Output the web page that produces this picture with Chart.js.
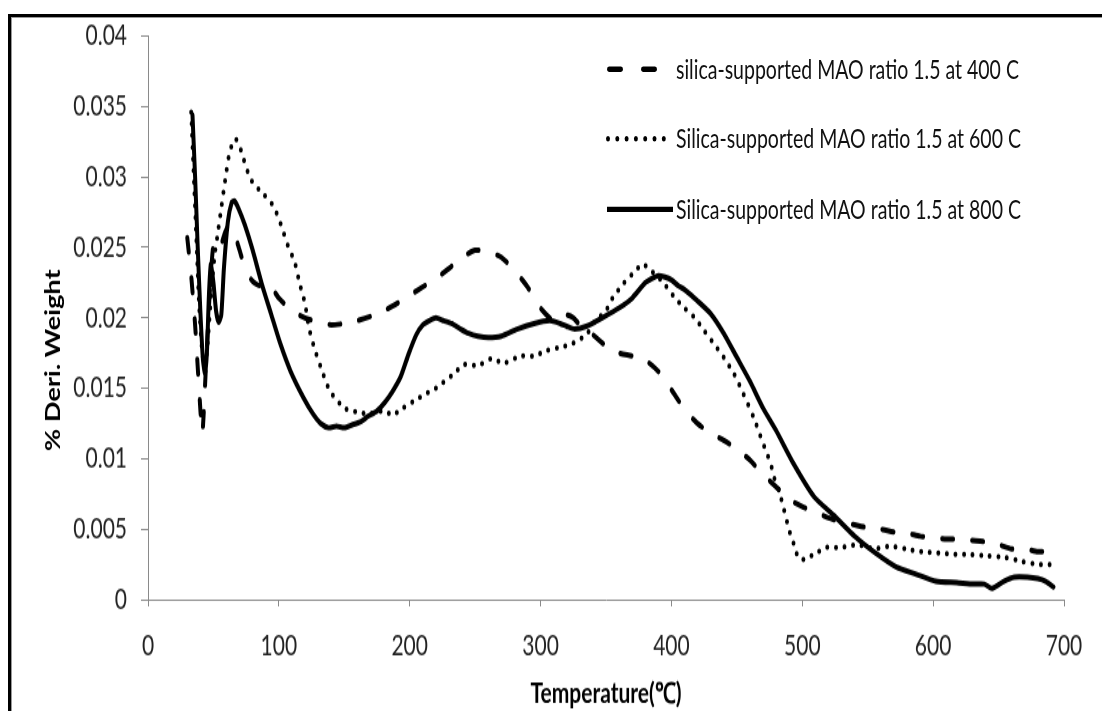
<!DOCTYPE html>
<html>
<head>
<meta charset="utf-8">
<script src="https://cdn.jsdelivr.net/npm/chart.js@4.4.1/dist/chart.umd.min.js"></script>
<style>
  body { margin: 0; background: #fff; overflow: hidden; }
  /* the picture is a stretched Excel chart, so the whole drawing is scaled in y */
  #stretch { position: absolute; left: 0; top: 0; width: 1102px; height: 523px; transform-origin: 0 0; transform: scaleY(1.3595); }
  #frame { position: absolute; left: 8px; top: 14px; width: 1200px; height: 800px; border-left: 3px solid #000; border-top: 3px solid #000; box-shadow: inset 1px 1px 0 #999; pointer-events: none; }
  .fila { position: absolute; left: 605px; height: 26px; font: 19.5px Lato, "Liberation Sans", sans-serif; color: #111; white-space: nowrap; }
  .fila svg { position: absolute; left: 0; top: 0; }
  .fila span { position: absolute; left: 71px; top: 0; line-height: 26px; }
  #titulo-y { position: absolute; left: 52px; top: 265px; transform: translate(-50%, -50%) rotate(-90deg); font: bold 20px Lato, "Liberation Sans", sans-serif; color: #000; white-space: nowrap; }
</style>
</head>
<body>
<div id="stretch">
  <canvas id="myChart" width="1102" height="523"></canvas>
  <div id="titulo-y">% Deri. Weight</div>
  <div class="fila" style="top:38px">
    <svg width="70" height="26"><line x1="4" y1="13" x2="52" y2="13" stroke="#000" stroke-width="4" stroke-linecap="round" stroke-dasharray="12 22"/></svg>
    <span>silica-supported MAO ratio 1.5 at 400 C</span>
  </div>
  <div class="fila" style="top:89px">
    <svg width="70" height="26"><line x1="3" y1="13" x2="60" y2="13" stroke="#000" stroke-width="4" stroke-linecap="round" stroke-dasharray="0 9.3"/></svg>
    <span>Silica-supported MAO ratio 1.5 at 600 C</span>
  </div>
  <div class="fila" style="top:141px">
    <svg width="70" height="26"><line x1="2" y1="13" x2="68" y2="13" stroke="#000" stroke-width="4"/></svg>
    <span>Silica-supported MAO ratio 1.5 at 800 C</span>
  </div>
</div>
<div id="frame"></div>

<script>
const fuente = "Lato, 'Liberation Sans', sans-serif"

// silica-supported MAO ratio 1.5 at 400 C (dashed)
const temp400 = [30, 33, 36, 39, 41.5, 44, 47, 50, 53, 56, 59, 62, 66, 70, 75, 80, 85, 90, 95, 100,
  110, 120, 130, 140, 150, 160, 170, 180, 190, 200, 210, 220, 230, 240, 250, 260, 270, 280, 290, 300,
  310, 320, 325, 330, 340, 350, 360, 370, 380, 390, 400, 410, 420, 430, 440, 450, 460, 470, 480, 490,
  500, 510, 520, 530, 540, 550, 560, 570, 580, 590, 600, 610, 620, 630, 640, 650, 660, 670, 680, 690]
const deriv400 = [0.0257, 0.0230, 0.0195, 0.0150, 0.0118, 0.0160, 0.0215, 0.0252, 0.0247, 0.0252, 0.0261, 0.0266, 0.0260, 0.0248, 0.0233, 0.0226, 0.0223, 0.0226, 0.0221, 0.0214,
  0.0205, 0.0200, 0.0197, 0.0195, 0.0196, 0.0198, 0.0201, 0.0205, 0.0210, 0.0216, 0.0222, 0.0228, 0.0235, 0.0243, 0.0248, 0.0247, 0.0243, 0.0234, 0.0222, 0.0207,
  0.0198, 0.0202, 0.0200, 0.0195, 0.0188, 0.0180, 0.0175, 0.0173, 0.0170, 0.0162, 0.0149, 0.0135, 0.0125, 0.0118, 0.0113, 0.0107, 0.0099, 0.0089, 0.0080, 0.0071,
  0.0066, 0.0062, 0.0058, 0.0055, 0.0053, 0.0051, 0.0050, 0.0048, 0.0047, 0.0045, 0.0044, 0.0043, 0.0043, 0.0042, 0.0041, 0.0039, 0.0036, 0.0036, 0.0034, 0.0034]

// Silica-supported MAO ratio 1.5 at 600 C (dotted)
const temp600 = [33, 35, 37, 39, 41, 43, 45, 47, 49, 51, 53, 56, 59, 62, 65, 67, 70, 73, 78, 83,
  89, 94, 98, 102, 107, 112, 116, 120, 123, 127, 132, 139, 150, 160, 170, 180, 187, 195, 205, 212,
  220, 232, 242, 252, 262, 272, 285, 295, 305, 315, 325, 335, 342, 350, 355, 363, 370, 378, 384, 393,
  402, 410, 418, 425, 433, 440, 448, 455, 463, 468, 472, 476, 479, 482, 486, 490, 493, 495, 499, 504,
  511, 517, 529, 542, 555, 567, 579, 591, 604, 617, 628, 642, 655, 668, 680, 692]
const deriv600 = [0.0346, 0.0300, 0.0255, 0.0210, 0.0180, 0.0165, 0.0175, 0.0200, 0.0225, 0.0245, 0.0258, 0.0278, 0.0298, 0.0316, 0.0325, 0.0327, 0.0322, 0.0313, 0.0299, 0.0293,
  0.0287, 0.0282, 0.0275, 0.0265, 0.0251, 0.0240, 0.0224, 0.0210, 0.0193, 0.0179, 0.0165, 0.0148, 0.0136, 0.0133, 0.0132, 0.0134, 0.0131, 0.0136, 0.0142, 0.0146,
  0.0150, 0.0159, 0.0167, 0.0166, 0.0171, 0.0168, 0.0173, 0.0173, 0.0177, 0.0179, 0.0182, 0.0188, 0.0198, 0.0205, 0.0214, 0.0224, 0.0231, 0.0238, 0.0234, 0.0226,
  0.0215, 0.0207, 0.0200, 0.0191, 0.0181, 0.0172, 0.0160, 0.0146, 0.0129, 0.0116, 0.0106, 0.0096, 0.0085, 0.0078, 0.0064, 0.0049, 0.0041, 0.0034, 0.0028, 0.0030,
  0.0033, 0.0037, 0.0037, 0.0039, 0.0036, 0.0038, 0.0036, 0.0034, 0.0033, 0.0032, 0.0032, 0.0031, 0.0030, 0.0027, 0.0025, 0.0025]

// Silica-supported MAO ratio 1.5 at 800 C (solid)
const temp800 = [34, 36, 38, 40, 42, 43.5, 45, 46.5, 48, 50, 52, 54, 56, 58, 61, 64, 66, 69, 74, 80,
  87, 94, 101, 109, 119, 126, 132, 138, 144, 150, 156, 162, 168, 175, 181, 187, 193, 199, 205, 210,
  215, 220, 226, 232, 239, 245, 252, 260, 270, 282, 295, 307, 315, 320, 326, 335, 347, 360, 370, 380,
  385, 390, 395, 400, 405, 410, 420, 430, 440, 450, 460, 470, 480, 493, 509, 525, 540, 556, 572, 587,
  602, 618, 631, 639, 645, 654, 662, 672, 680, 686, 692]
const deriv800 = [0.0344, 0.0300, 0.0250, 0.0205, 0.0170, 0.0161, 0.0175, 0.0215, 0.0238, 0.0225, 0.0205, 0.0197, 0.0202, 0.0235, 0.0268, 0.0282, 0.0283, 0.0278, 0.0266, 0.0248,
  0.0224, 0.0203, 0.0182, 0.0162, 0.0143, 0.0132, 0.0125, 0.0122, 0.0123, 0.0122, 0.0124, 0.0126, 0.0130, 0.0134, 0.0140, 0.0148, 0.0158, 0.0174, 0.0188, 0.0195,
  0.0198, 0.0200, 0.0198, 0.0196, 0.0192, 0.0189, 0.0187, 0.0186, 0.0187, 0.0192, 0.0196, 0.0198, 0.0196, 0.0194, 0.0192, 0.0194, 0.0200, 0.0207, 0.0214, 0.0225,
  0.0228, 0.0230, 0.0229, 0.0227, 0.0223, 0.0220, 0.0212, 0.0203, 0.0189, 0.0172, 0.0155, 0.0136, 0.0120, 0.0097, 0.0073, 0.0059, 0.0045, 0.0033, 0.0023, 0.0018,
  0.0013, 0.0012, 0.0011, 0.0011, 0.0008, 0.0013, 0.0016, 0.0016, 0.0015, 0.0013, 0.0009]

const xTicks = [0, 100, 200, 300, 400, 500, 600, 700]


function puntos(xs, ys) {
    return xs.map((x, i) => ({ x: x, y: ys[i] }))
}

function serie(xs, ys, dash) {
    return {
        data: puntos(xs, ys),
        borderColor: "#000",
        borderWidth: 4,
        borderDash: dash,
        borderCapStyle: "round",
        borderJoinStyle: "round",
        pointRadius: 0,
        tension: 0.2,
        fill: false
    }
}

const config = {
    type: "line",
    data: {
        datasets: [
            serie(temp400, deriv400, [11, 19]),
            serie(temp600, deriv600, [0, 8.6]),
            serie(temp800, deriv800, [])
        ]
    },
    options: {
        responsive: false,
        animation: false,
        events: [],
        layout: { padding: { top: 25, right: 38, bottom: 0, left: 0 } },
        plugins: {
            legend: { display: false },
            tooltip: { enabled: false }
        },
        scales: {
            x: {
                type: "linear",
                min: 0,
                max: 700,
                afterBuildTicks: (s) => { s.ticks = xTicks.map((v) => ({ value: v })) },
                afterFit: (s) => { s.height = 82 },
                ticks: { padding: 17, color: "#222", font: { family: fuente, size: 21 } },
                grid: { drawOnChartArea: false, tickLength: 5, color: "#8a8a8a" },
                border: { color: "#8a8a8a" },
                title: {
                    display: true,
                    text: "Temperature(℃)",
                    color: "#000",
                    padding: 0,
                    font: { family: fuente, size: 21, weight: "bold" }
                }
            },
            y: {
                min: 0,
                max: 0.04,
                afterFit: (s) => { s.width = 148 },
                ticks: {
                    stepSize: 0.005,
                    padding: 14,
                    color: "#222",
                    font: { family: fuente, size: 21 },
                    callback: (v) => String(Number(v.toFixed(3)))
                },
                grid: { drawOnChartArea: false, tickLength: 7, color: "#8a8a8a" },
                border: { color: "#8a8a8a" }
            }
        }
    }
}

new Chart(document.getElementById("myChart"), config)
</script>
</body>
</html>
